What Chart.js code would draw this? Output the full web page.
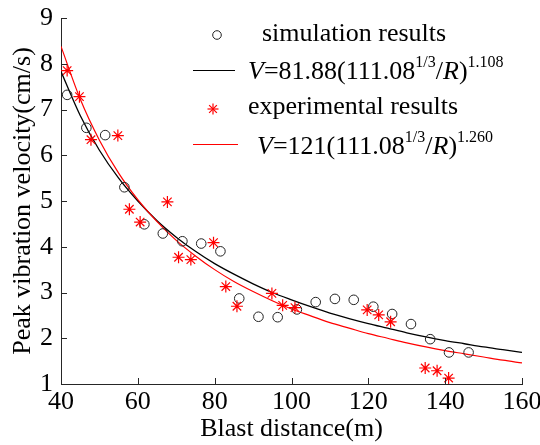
<!DOCTYPE html>
<html>
<head>
<meta charset="utf-8">
<script src="https://cdn.jsdelivr.net/npm/chart.js@4"></script>
<style>
  html, body { margin: 0; padding: 0; background: #fff; }
  #wrap { position: relative; width: 540px; height: 445px; font-family: 'Liberation Serif', 'Times New Roman', serif; color: #000; }
  #wrap canvas { position: absolute; left: 0; top: 0; }
  .lg { position: absolute; font-size: 26px; line-height: 26px; white-space: nowrap; }
  .sup { font-size: 16px; position: relative; top: -12px; }
  .ln { position: absolute; height: 1px; }
  .mk { position: absolute; }
</style>
</head>
<body>
<div id="wrap">
  <canvas id="chart" width="540" height="445"></canvas>

  <!-- legend, top right -->
  <svg class="mk" style="left:211px;top:29px" width="12" height="12"><circle cx="6" cy="6" r="4.3" fill="none" stroke="#222" stroke-width="1"/></svg>
  <div class="lg" style="left:262px;top:20px">simulation results</div>

  <div class="ln" style="left:193px;top:70px;width:42px;background:#000"></div>
  <div class="lg" style="left:248px;top:58px"><i>V</i>=81.88(111.08<span class="sup">1/3</span>/<i>R</i>)<span class="sup">1.108</span></div>

  <svg class="mk" style="left:206px;top:102px" width="14" height="14">
    <g stroke="#f00" stroke-width="1.2">
      <line x1="7" y1="1.5" x2="7" y2="12.5"/><line x1="1.5" y1="7" x2="12.5" y2="7"/>
      <line x1="3.1" y1="3.1" x2="10.9" y2="10.9"/><line x1="3.1" y1="10.9" x2="10.9" y2="3.1"/>
    </g>
  </svg>
  <div class="lg" style="left:248px;top:93px">experimental results</div>

  <div class="ln" style="left:193px;top:144px;width:45px;background:#f00"></div>
  <div class="lg" style="left:257px;top:133px"><i>V</i>=121(111.08<span class="sup">1/3</span>/<i>R</i>)<span class="sup">1.260</span></div>
</div>

<script>
// simulation results (circles)
const simX = [41.6, 46.6, 51.5, 56.5, 61.7, 66.5, 71.6, 76.5, 81.5, 86.4, 91.4, 96.4, 101.4, 106.3, 111.3, 116.2, 121.3, 126.2, 131.1, 136.1, 141.0, 146.1];
const simY = [7.32, 6.60, 6.44, 5.30, 4.49, 4.29, 4.12, 4.07, 3.90, 2.87, 2.47, 2.46, 2.63, 2.79, 2.86, 2.84, 2.69, 2.53, 2.31, 1.98, 1.69, 1.69];

// experimental results (stars)
const expX = [41.6, 44.8, 47.8, 54.8, 57.8, 60.6, 67.7, 70.6, 73.8, 79.7, 82.9, 85.8, 94.9, 97.7, 100.9, 119.7, 122.7, 125.8, 134.8, 137.9, 140.9];
const expY = [7.85, 7.28, 6.34, 6.43, 4.82, 4.54, 4.98, 3.77, 3.72, 4.09, 3.13, 2.70, 2.98, 2.72, 2.67, 2.62, 2.51, 2.36, 1.35, 1.29, 1.13];

// fitted curves
const fitX = [40, 45, 50, 55, 60, 65, 70, 75, 80, 85, 90, 95, 100, 105, 110, 115, 120, 125, 130, 135, 140, 145, 150, 155, 160];
const simFitY = [7.83, 6.87, 6.11, 5.50, 5.00, 4.57, 4.21, 3.90, 3.63, 3.40, 3.19, 3.00, 2.84, 2.69, 2.55, 2.43, 2.32, 2.22, 2.12, 2.03, 1.95, 1.88, 1.81, 1.75, 1.69];
const expFitY = [8.38, 7.23, 6.33, 5.61, 5.03, 4.55, 4.14, 3.80, 3.50, 3.24, 3.02, 2.82, 2.64, 2.49, 2.34, 2.22, 2.10, 2.00, 1.90, 1.81, 1.73, 1.66, 1.59, 1.52, 1.46];

const xTicks = [40, 60, 80, 100, 120, 140, 160];
const yTicks = [1, 2, 3, 4, 5, 6, 7, 8, 9];

const FONT = "'Liberation Serif', 'Times New Roman', serif";
const AXIS_COLOR = '#262626';

const toPoints = (xs, ys) => xs.map((x, i) => ({ x: x, y: ys[i] }));

// MATLAB style ticks pointing into the plot
const inwardTicks = {
    id: 'inwardTicks',
    afterDraw(chart) {
        const { ctx, chartArea, scales } = chart;
        ctx.save();
        ctx.strokeStyle = AXIS_COLOR;
        ctx.lineWidth = 1;
        ctx.beginPath();
        xTicks.forEach(v => {
            const px = Math.round(scales.x.getPixelForValue(v)) + 0.5;
            ctx.moveTo(px, chartArea.bottom);
            ctx.lineTo(px, chartArea.bottom - 6);
        });
        yTicks.forEach(v => {
            const py = Math.round(scales.y.getPixelForValue(v)) + 0.5;
            ctx.moveTo(chartArea.left, py);
            ctx.lineTo(chartArea.left + 6, py);
        });
        ctx.stroke();
        ctx.restore();
    }
};

function drawChart() {
    new Chart(document.getElementById('chart'), {
        type: 'scatter',
        data: {
            datasets: [
                {
                    label: 'simulation results',
                    data: toPoints(simX, simY),
                    showLine: false,
                    pointStyle: 'circle',
                    pointRadius: 4.8,
                    borderColor: '#222',
                    backgroundColor: 'rgba(0,0,0,0)',
                    borderWidth: 1,
                    order: 1
                },
                {
                    label: 'simulation fit',
                    data: toPoints(fitX, simFitY),
                    showLine: true,
                    pointRadius: 0,
                    borderColor: '#000',
                    borderWidth: 1.3,
                    cubicInterpolationMode: 'monotone',
                    order: 3
                },
                {
                    label: 'experimental results',
                    data: toPoints(expX, expY),
                    showLine: false,
                    pointStyle: 'star',
                    pointRadius: 6,
                    borderColor: '#ff0000',
                    backgroundColor: '#ff0000',
                    borderWidth: 1.2,
                    order: 0
                },
                {
                    label: 'experimental fit',
                    data: toPoints(fitX, expFitY),
                    showLine: true,
                    pointRadius: 0,
                    borderColor: '#ff0000',
                    borderWidth: 1.2,
                    cubicInterpolationMode: 'monotone',
                    order: 2
                }
            ]
        },
        options: {
            responsive: false,
            animation: false,
            devicePixelRatio: 1,
            layout: { padding: { top: 18, right: 18, left: 0, bottom: 0 } },
            plugins: {
                legend: { display: false },
                tooltip: { enabled: false }
            },
            scales: {
                x: {
                    type: 'linear',
                    min: 40,
                    max: 160,
                    grid: { display: false, drawTicks: false },
                    border: { color: AXIS_COLOR, width: 1 },
                    afterBuildTicks: (scale) => { scale.ticks = xTicks.map(v => ({ value: v })); },
                    ticks: {
                        color: '#000',
                        padding: 3,
                        maxRotation: 0,
                        font: { family: FONT, size: 26 }
                    },
                    title: {
                        display: true,
                        text: 'Blast distance(m)',
                        color: '#000',
                        padding: { top: 0, bottom: 0 },
                        font: { family: FONT, size: 26 }
                    },
                    afterFit: (scale) => {
                        scale.height = 61;
                        scale.paddingLeft = 0;
                        scale.paddingRight = 0;
                    }
                },
                y: {
                    type: 'linear',
                    min: 1,
                    max: 9,
                    grid: { display: false, drawTicks: false },
                    border: { color: AXIS_COLOR, width: 1 },
                    afterBuildTicks: (scale) => { scale.ticks = yTicks.map(v => ({ value: v })); },
                    ticks: {
                        color: '#000',
                        padding: 8,
                        font: { family: FONT, size: 26 }
                    },
                    title: {
                        display: true,
                        text: 'Peak vibration velocity(cm/s)',
                        color: '#000',
                        padding: { top: 8, bottom: 0 },
                        font: { family: FONT, size: 26 }
                    },
                    afterFit: (scale) => {
                        scale.width = 61;
                        scale.paddingTop = 0;
                        scale.paddingBottom = 0;
                    }
                }
            }
        },
        plugins: [inwardTicks]
    });
}

// make sure the serif face is ready before the canvas text is drawn
Promise.all([
    document.fonts.load("26px 'Liberation Serif'"),
    document.fonts.load("italic 26px 'Liberation Serif'")
]).then(drawChart, drawChart);
</script>
</body>
</html>
